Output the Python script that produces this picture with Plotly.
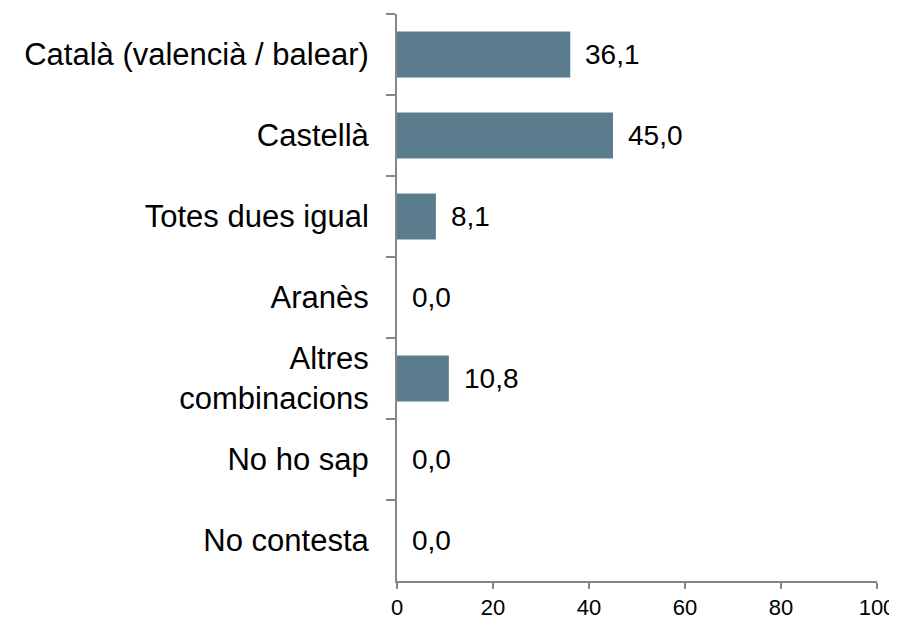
import plotly.graph_objects as go

categories = ["Català (valencià / balear)", "Castellà", "Totes dues igual", "Aranès",
              "Altres<br>combinacions", "No ho sap", "No contesta"]
values = [36.1, 45.0, 8.1, 0.0, 10.8, 0.0, 0.0]
x_ticks = [0, 20, 40, 60, 80, 100]

bar_color = "rgb(91,124,141)"

fig = go.Figure()
fig.add_trace(go.Bar(
    x=values,
    y=categories,
    orientation="h",
    width=0.57,
    marker=dict(color=bar_color, line=dict(width=0)),
    hoverinfo="x+y",
))

# value labels to the right of each bar, decimal comma
for c, v in zip(categories, values):
    fig.add_annotation(
        x=v, y=c, text=f"{v:.1f}".replace(".", ","),
        xanchor="left", yanchor="middle", xshift=13, showarrow=False,
        font=dict(family="Liberation Sans, Arial", size=28, color="black"),
    )

# page body has an 8px margin, so the figure is made 8px smaller
fig.update_layout(
    template="none",
    width=889, height=609,
    margin=dict(l=389, r=20, t=6, b=36, pad=0),
    paper_bgcolor="white", plot_bgcolor="white",
    showlegend=False,
    font=dict(family="Liberation Sans, Arial", color="black"),
    xaxis=dict(
        range=[0, 100], tickvals=x_ticks, showgrid=False, zeroline=False,
        showline=True, linecolor="#868686", linewidth=2, automargin=False,
        ticks="outside", ticklen=6, tickwidth=2, tickcolor="#868686",
        tickfont=dict(size=22), fixedrange=True,
    ),
    yaxis=dict(
        autorange="reversed", showgrid=False, zeroline=False,
        showline=True, linecolor="#868686", linewidth=2, automargin=False,
        ticks="outside", tickson="boundaries", ticklen=9, tickwidth=2,
        tickcolor="#868686", tickfont=dict(size=31), ticklabelstandoff=20,
    ),
)

fig.write_html("out.html")
